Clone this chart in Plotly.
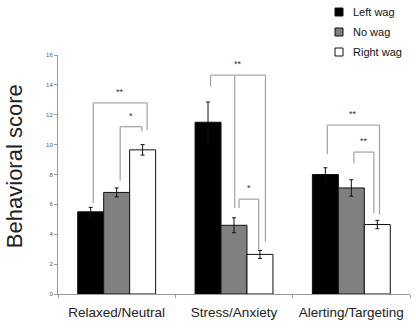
import plotly.graph_objects as go

categories = ["Relaxed/Neutral", "Stress/Anxiety", "Alerting/Targeting"]
series_names = ["Left wag", "No wag", "Right wag"]
left_wag = [5.5, 11.5, 8.0]
left_err = [0.3, 1.35, 0.45]
no_wag = [6.8, 4.6, 7.1]
no_err = [0.3, 0.5, 0.55]
right_wag = [9.65, 2.65, 4.65]
right_err = [0.35, 0.27, 0.28]
y_ticks = [0, 2, 4, 6, 8, 10, 12, 14, 16]

# significance brackets: (category index, leg x-offsets, bracket top y, leg bottoms, label)
brackets = [
    (0, [-0.20, 0.26], 12.8, [6.1, 11.0], "**"),
    (0, [0.03, 0.215], 11.2, [7.6, 10.9], "*"),
    (1, [-0.20, 0.006, 0.268], 14.65, [13.9, 5.75, 3.5], "**"),
    (1, [0.043, 0.21], 6.35, [5.75, 3.0], "*"),
    (2, [-0.205, 0.24], 11.3, [9.35, 5.3], "**"),
    (2, [0.022, 0.192], 9.5, [8.75, 5.4], "**"),
]

fills = ["#000000", "#808080", "#ffffff"]
values = [left_wag, no_wag, right_wag]
errors = [left_err, no_err, right_err]

W, H = 416, 330
M = dict(l=58, r=6, t=55, b=36)

fig = go.Figure()
for name, vals, errs, col in zip(series_names, values, errors, fills):
    fig.add_trace(go.Bar(
        name=name, x=categories, y=vals,
        marker=dict(color=col, line=dict(color="#111111", width=1)),
        error_y=dict(type="data", array=errs, color="#111111", thickness=1, width=2),
    ))

for ci, xs, top, bottoms, label in brackets:
    base = ci
    for dx, yb in zip(xs, bottoms):
        fig.add_shape(type="line", x0=base + dx, x1=base + dx, y0=yb, y1=top,
                      xref="x", yref="y", line=dict(color="#a8a8a8", width=1.3))
    fig.add_shape(type="line", x0=base + xs[0], x1=base + xs[-1], y0=top, y1=top,
                  xref="x", yref="y", line=dict(color="#a8a8a8", width=1.3))
    fig.add_annotation(x=base + (xs[0] + xs[-1]) / 2, y=top, text=label, showarrow=False,
                       yanchor="bottom", yshift=4, font=dict(size=9, color="#333333"))

# legend key in the top-right corner: small swatches with labels
pw = W - M["l"] - M["r"]
ph = H - M["t"] - M["b"]
def px_to_paper(x, y):
    return (x - M["l"]) / pw, (H - M["b"] - y) / ph

for i, (name, col) in enumerate(zip(series_names, fills)):
    cy = 12 + 20 * i
    x0, y0 = px_to_paper(335, cy + 4)
    x1, y1 = px_to_paper(343, cy - 4)
    fig.add_shape(type="rect", xref="paper", yref="paper", x0=x0, y0=y0, x1=x1, y1=y1,
                  fillcolor=col, line=dict(color="#111111", width=1))
    tx, ty = px_to_paper(351, cy)
    fig.add_annotation(text=name, xref="paper", yref="paper", x=tx, y=ty,
                       xanchor="left", yanchor="middle", showarrow=False,
                       font=dict(size=11, color="#111111"))

# vertical axis title
fig.add_annotation(text="Behavioral score", xref="paper", yref="paper",
                   x=-0.125, y=0.535, textangle=-90, showarrow=False,
                   xanchor="center", yanchor="middle",
                   font=dict(size=22, color="#222222"))

fig.update_layout(
    width=W, height=H,
    margin=M,
    paper_bgcolor="white", plot_bgcolor="white",
    barmode="group", bargap=0.336, bargroupgap=0,
    font=dict(family="Liberation Sans, Arial, sans-serif", color="#222222"),
    showlegend=False,
    xaxis=dict(
        type="category", range=[-0.5, 2.5], automargin=False,
        showline=True, linecolor="#999999", linewidth=1,
        ticks="outside", tickson="boundaries", ticklen=3, tickcolor="#999999",
        ticklabelstandoff=6, tickangle=0,
        tickfont=dict(size=13.5, color="#222222"), showgrid=False,
    ),
    yaxis=dict(
        range=[0, 16], tickvals=y_ticks, automargin=False,
        showline=True, linecolor="#999999", linewidth=1,
        ticks="outside", ticklen=3, tickcolor="#999999",
        tickfont=dict(size=6, color="#555555"), showgrid=False, zeroline=False,
    ),
)

fig.write_html("out.html")
